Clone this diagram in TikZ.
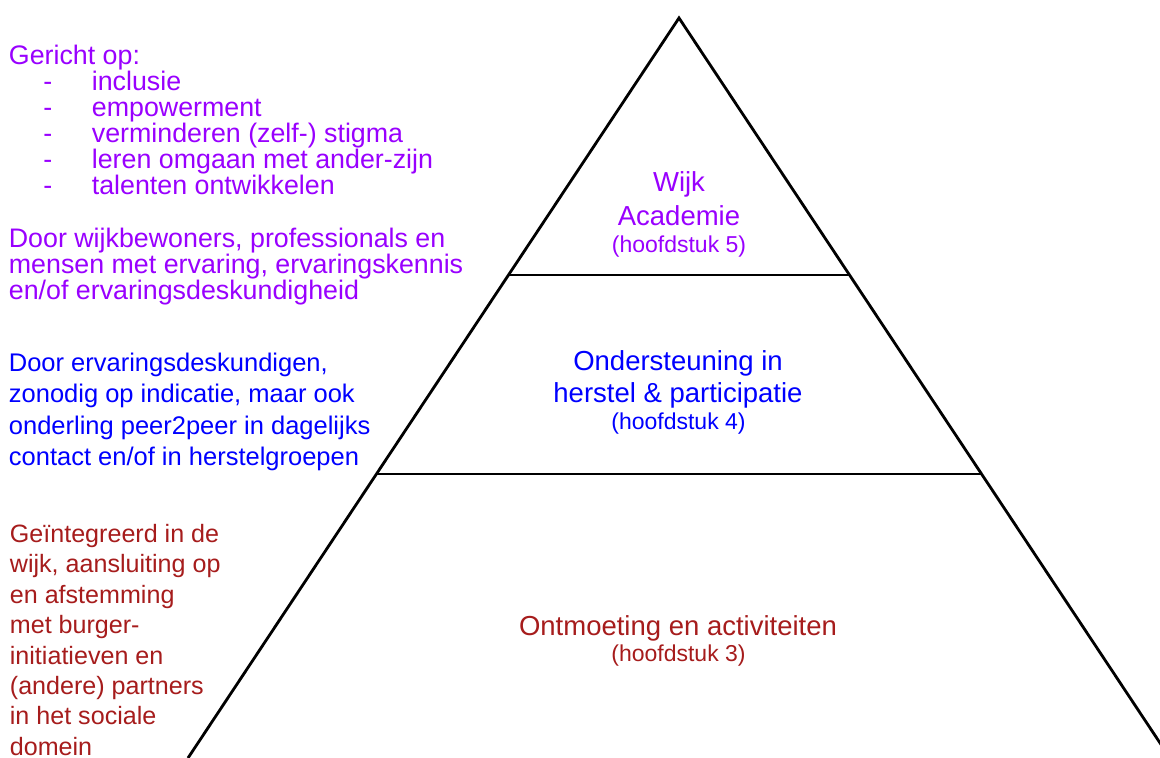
\documentclass[tikz,border=0pt]{standalone}
\usepackage{fontspec}
\setmainfont{Liberation Sans}
\usepackage{xcolor}
\usetikzlibrary{calc}

\definecolor{wijkpaars}{HTML}{9900FF}
\definecolor{herstelblauw}{HTML}{0000FF}
\definecolor{ontmoetrood}{HTML}{A61C1C}

\newcommand{\streepje}[1]{\hspace*{34.5pt}\makebox[48.5pt][l]{-}#1}

\begin{document}
\begin{tikzpicture}[x=1pt, y=-1pt, line width=2.8pt,
    links/.style={anchor=north west, inner sep=0pt, align=left},
    titel/.style={anchor=north, inner sep=0pt, align=center},
    hoofdstuk/.style={anchor=base, inner sep=0pt, font=\fontsize{23}{26}\selectfont}]
  \useasboundingbox (0,0) rectangle (1160,758);

  % pyramid
  \coordinate (top) at (679, 18);
  \coordinate (BL) at (188, 758);
  \coordinate (BR) at (1170, 758);
  \coordinate (A1) at ($(top)!0.3473!(BL)$);
  \coordinate (B1) at ($(top)!0.3473!(BR)$);
  \coordinate (A2) at ($(top)!0.6162!(BL)$);
  \coordinate (B2) at ($(top)!0.6162!(BR)$);
  \draw[line join=miter] (BL) -- (top) -- (BR);
  \draw (A1) -- (B1) (A2) -- (B2);

  % levels
  \node[titel, text=wijkpaars, font=\fontsize{27.5}{34}\selectfont] (L5) at (679, 170.3) {Wijk\\Academie};
  \node[hoofdstuk, text=wijkpaars] (L5h) at (679, 252) {(hoofdstuk 5)};
  \node[titel, text=herstelblauw, font=\fontsize{27.5}{32}\selectfont] (L4) at (678, 349) {Ondersteuning in\\herstel \& participatie};
  \node[hoofdstuk, text=herstelblauw] (L4h) at (678.5, 429) {(hoofdstuk 4)};
  \node[anchor=base, inner sep=0pt, text=ontmoetrood, font=\fontsize{27.5}{32}\selectfont] (L3) at (678, 635) {Ontmoeting en activiteiten};
  \node[hoofdstuk, text=ontmoetrood] (L3h) at (678.5, 661) {(hoofdstuk 3)};

  % side texts
  \node[links, text=wijkpaars, font=\fontsize{26.8}{26}\selectfont] (G5) at (7.5, 43.8)
    {Gericht op:\\\streepje{inclusie}\\\streepje{empowerment}\\\streepje{verminderen (zelf-) stigma}\\
     \streepje{leren omgaan met ander-zijn}\\\streepje{talenten ontwikkelen}};
  \node[links, text=wijkpaars, font=\fontsize{26.8}{26}\selectfont] (D5) at (7.5, 227)
    {Door wijkbewoners, professionals en\\mensen met ervaring, ervaringskennis\\en/of ervaringsdeskundigheid};
  \node[links, text=herstelblauw, font=\fontsize{25.5}{31.3}\selectfont] (D4) at (7.5, 351.7)
    {Door ervaringsdeskundigen,\\zonodig op indicatie, maar ook\\onderling peer2peer in dagelijks\\contact en/of in herstelgroepen};
  \node[links, text=ontmoetrood, font=\fontsize{25.1}{30.4}\selectfont] (D3) at (8.5, 523)
    {Geïntegreerd in de\\wijk, aansluiting op\\en afstemming\\met burger-\\initiatieven en\\(andere) partners\\in het sociale\\domein};
\end{tikzpicture}
\end{document}
